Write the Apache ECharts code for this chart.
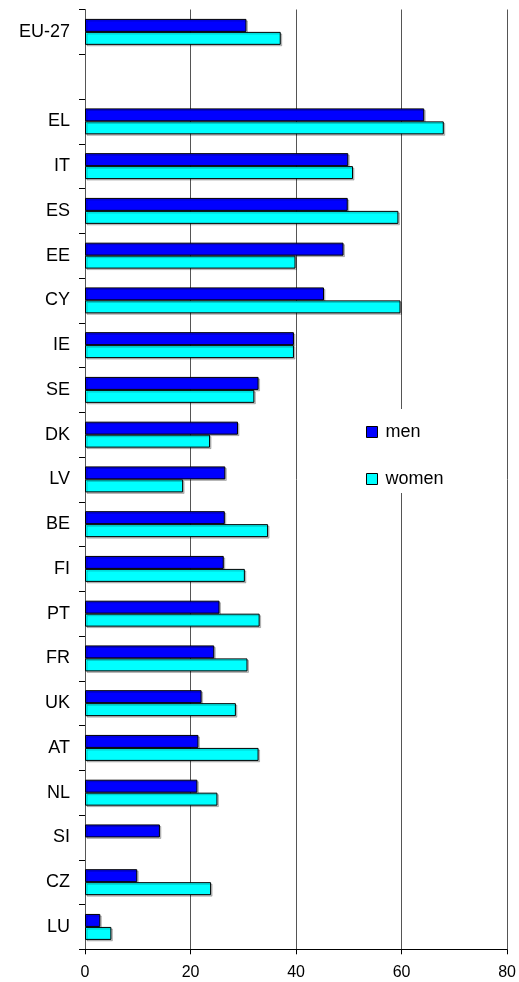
<!DOCTYPE html>
<html><head><meta charset="utf-8">
<script src="https://cdn.jsdelivr.net/npm/echarts@6/dist/echarts.min.js"></script>
<style>html,body{margin:0;padding:0;background:#fff}#c{width:519px;height:982px}</style>
</head><body><div id="c"></div>
<script>
var categories = ['EU-27','','EL','IT','ES','EE','CY','IE','SE','DK','LV','BE','FI','PT','FR','UK','AT','NL','SI','CZ','LU'];
var men   = [30.6, null, 64.3, 49.9, 49.8, 49.0, 45.3, 39.6, 32.9, 29.0, 26.6, 26.5, 26.3, 25.5, 24.5, 22.1, 21.5, 21.3, 14.2, 9.9, 2.9];
var women = [37.1, null, 68.0, 50.8, 59.4, 39.9, 59.8, 39.6, 32.1, 23.7, 18.6, 34.7, 30.3, 33.1, 30.8, 28.6, 32.9, 25.1, null, 23.9, 5.0];
var xTicks = [0, 20, 40, 60, 80];

var chart = echarts.init(document.getElementById('c'));
var barStyle = function(c){return {color:c,borderColor:'#000',borderWidth:1,shadowColor:'rgba(0,0,0,0.22)',shadowOffsetX:1.5,shadowOffsetY:1.5,shadowBlur:0};};
chart.setOption({
  animation:false,
  textStyle:{fontFamily:'Liberation Sans, Arial, sans-serif'},
  grid:{left:85,right:10,top:9.5,bottom:32.7,containLabel:false},
  legend:{
    orient:'vertical',left:360,top:409,itemGap:29,itemWidth:11,itemHeight:11,
    backgroundColor:'#fff',padding:[14,8,5,6],
    textStyle:{fontSize:18,color:'#000',padding:[0,0,0,3],fontFamily:'Liberation Sans, Arial, sans-serif'},
    data:[{name:'men',icon:'rect',itemStyle:{borderColor:'#000',borderWidth:1}},{name:'women',icon:'rect',itemStyle:{borderColor:'#000',borderWidth:1}}]
  },
  xAxis:{
    type:'value',min:xTicks[0],max:xTicks[xTicks.length-1],interval:20,
    axisLine:{show:true,lineStyle:{color:'#000',width:1}},
    axisTick:{show:true,length:5,lineStyle:{color:'#000'}},
    axisLabel:{fontSize:16,color:'#000',margin:15},
    splitLine:{show:true,lineStyle:{color:'#555',width:1}}
  },
  yAxis:{
    type:'category',data:categories,inverse:true,
    axisLine:{show:true,onZero:false,lineStyle:{color:'#555',width:1}},
    axisTick:{show:true,length:6,lineStyle:{color:'#000'}},
    axisLabel:{fontSize:18,color:'#000',margin:15},
    splitLine:{show:false}
  },
  series:[
    {name:'men',type:'bar',data:men,barGap:'0%',barCategoryGap:'42%',itemStyle:barStyle('#0000ff'),z:3},
    {name:'women',type:'bar',data:women,barGap:'0%',barCategoryGap:'42%',itemStyle:barStyle('#00ffff'),z:3}
  ]
});
</script></body></html>
